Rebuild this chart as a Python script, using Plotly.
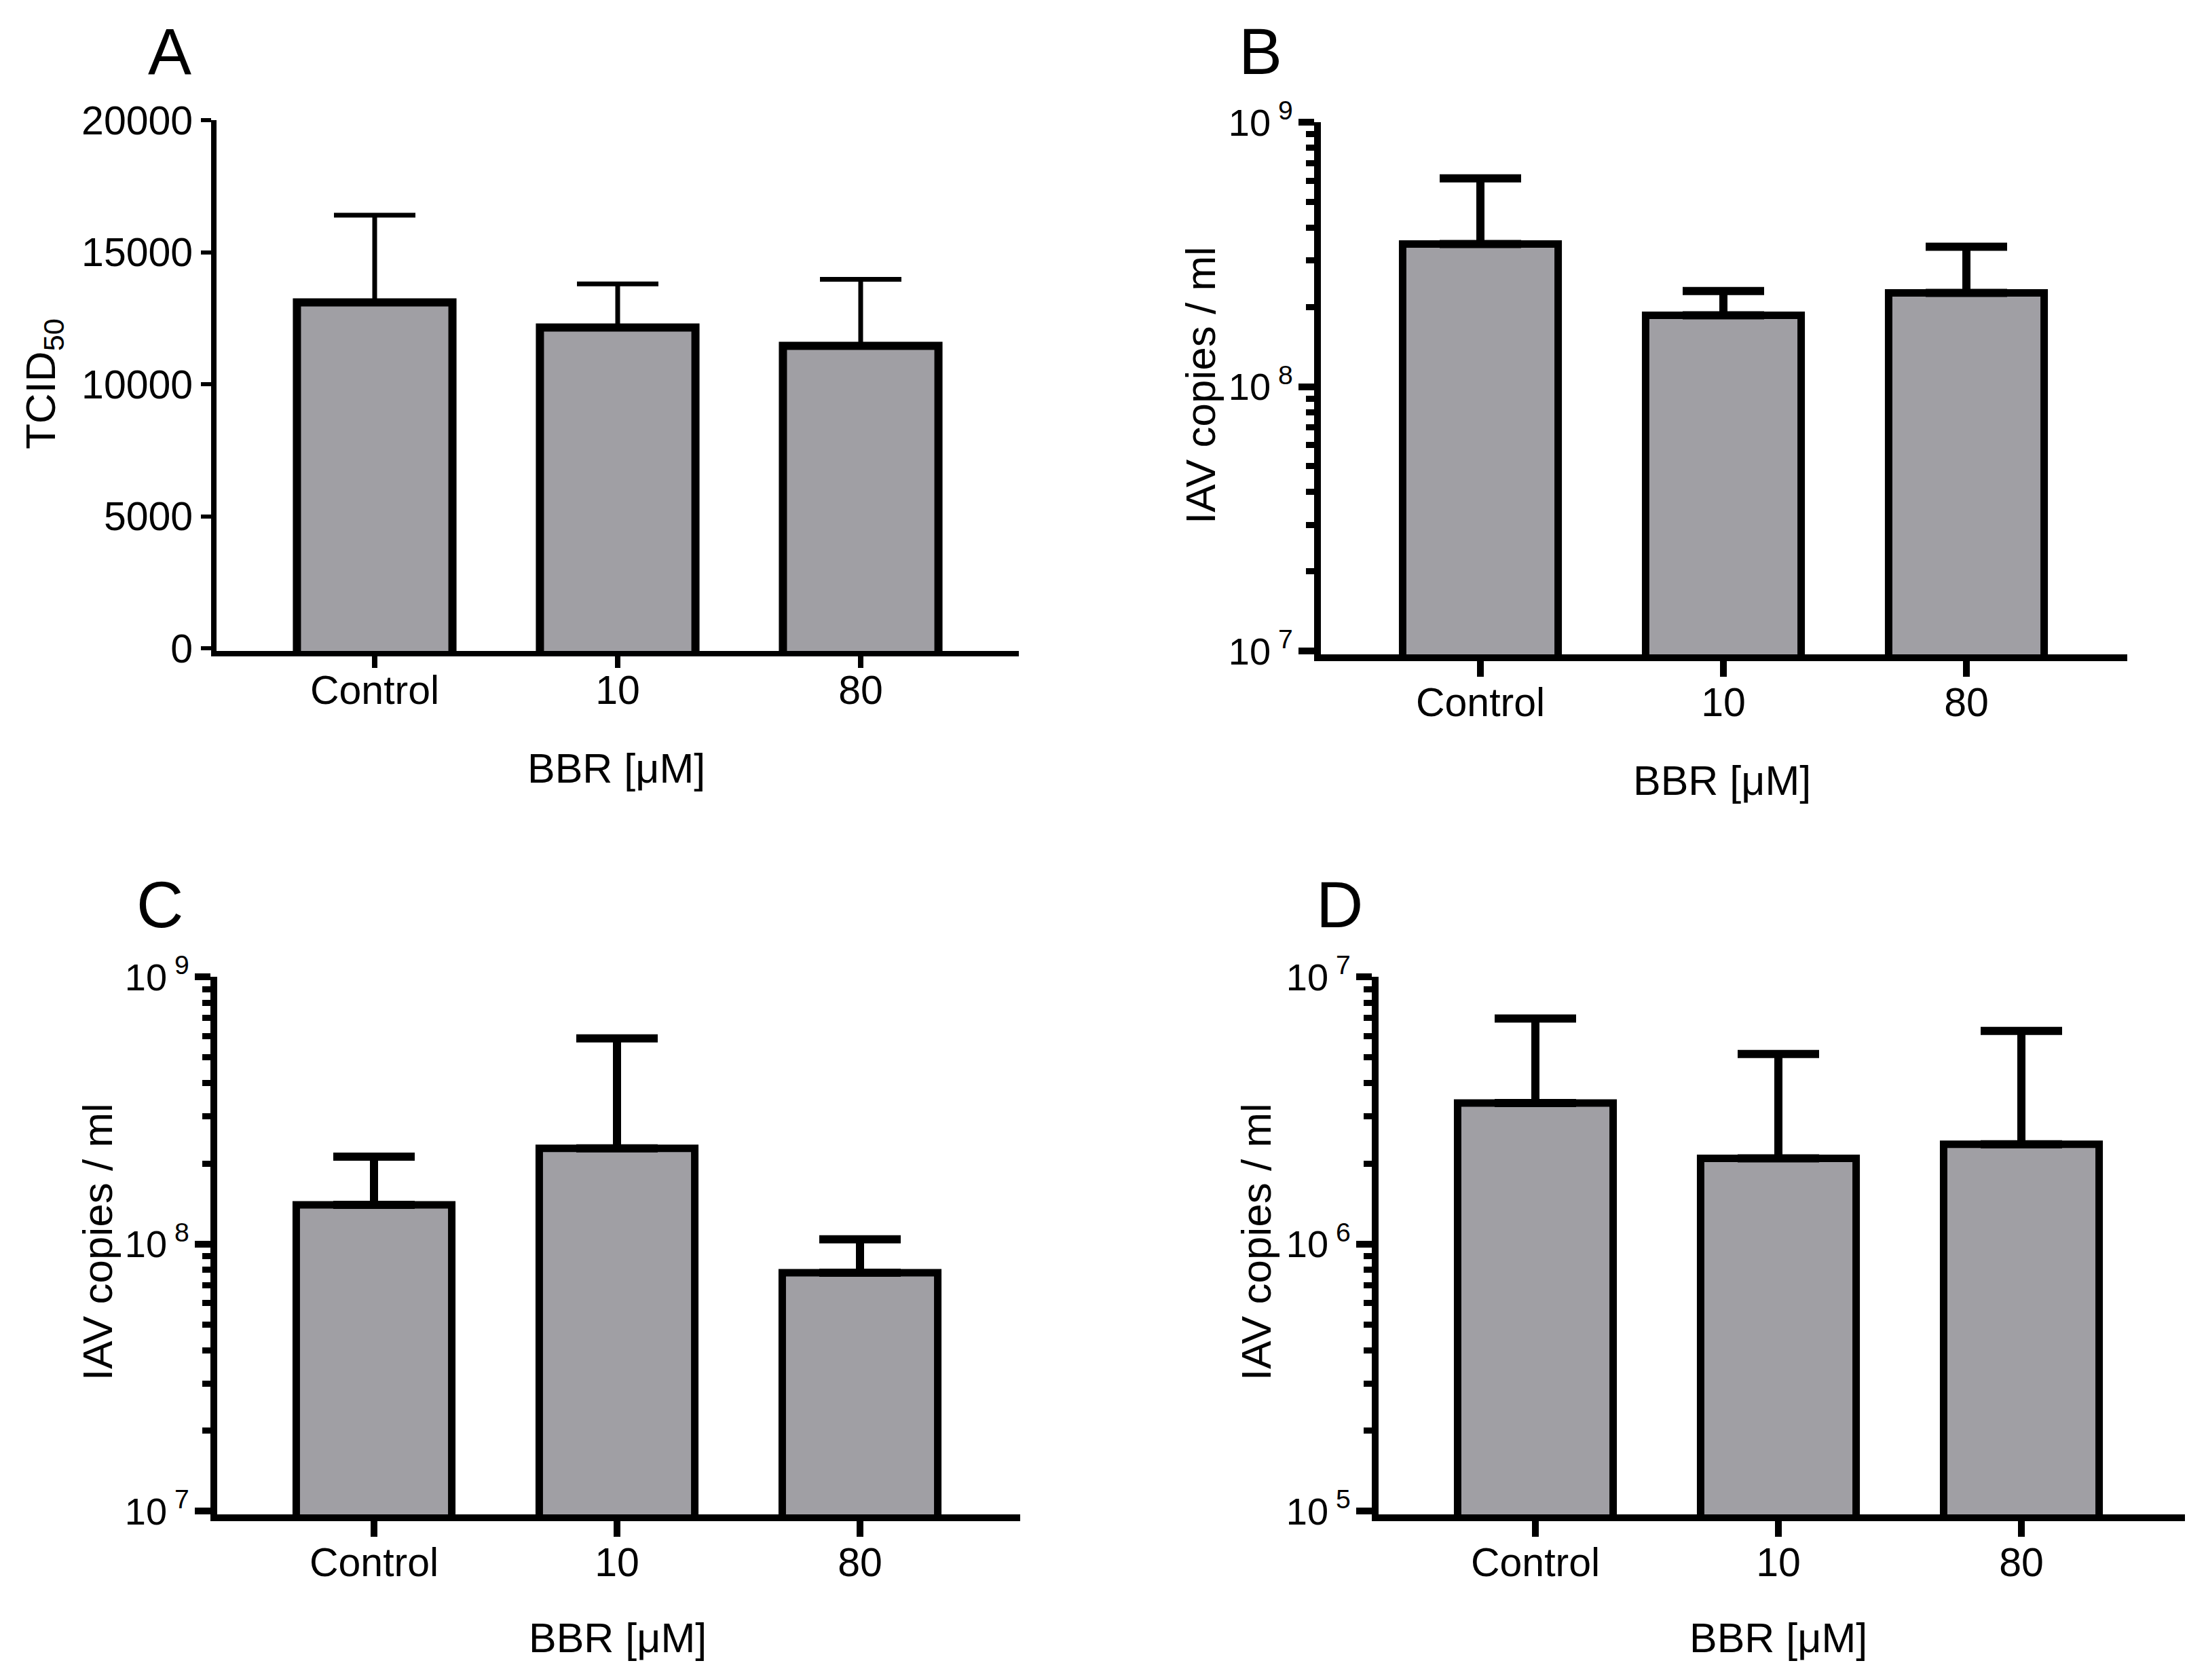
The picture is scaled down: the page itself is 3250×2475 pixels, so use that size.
import plotly.graph_objects as go

W, H = 3250, 2475
OFF = 8  # page body margin that shifts the whole figure

categories = ['Control', '10', '80']

# panel A: TCID50 (linear)
a_mean = [13100, 12150, 11450]
a_top = [16400, 13800, 13970]

# panel B: IAV copies / ml (log)
b_mean = [3.46e8, 1.86e8, 2.26e8]
b_top = [6.13e8, 2.30e8, 3.38e8]

# panel C
c_mean = [1.40e8, 2.28e8, 7.8e7]
c_top = [2.12e8, 5.88e8, 1.04e8]

# panel D
d_mean = [3.37e6, 2.09e6, 2.36e6]
d_top = [6.98e6, 5.14e6, 6.27e6]

a_ticks = [0, 5000, 10000, 15000, 20000]
bc_ticks = [1e7, 1e8, 1e9]
bc_ticktext = ['10<sup> 7</sup>', '10<sup> 8</sup>', '10<sup> 9</sup>']
d_ticks = [1e5, 1e6, 1e7]
d_ticktext = ['10<sup> 5</sup>', '10<sup> 6</sup>', '10<sup> 7</sup>']

FONT = 'Liberation Sans, Arial, sans-serif'
BAR_COLOR = '#a09fa4'
SPACING = 358  # px between category centres


def px(x):
    return (x - OFF) / W


def py(y):
    return 1 - (y - OFF) / H


# pixel frame: (y-axis x, x-axis right end, top, bottom, first category x)
panels = [
    dict(letter='A', mean=a_mean, top=a_top, frame=(315, 1501, 177, 963, 552),
         log=False, lw=8, bar_lw=12, err_t=7, xtl=17, ytl=15, xso=-18, yso=0, yfs=59,
         yticks=a_ticks, ytext=[str(t) for t in a_ticks], yr=(0, 20000),
         ytitle='TCID<sub>50</sub>', ytitle_pos=(64, 566),
         xtitle_pos=(908, 1132), letter_pos=(250, 76)),
    dict(letter='B', mean=b_mean, top=b_top, frame=(1941, 3134, 180, 969, 2181),
         log=True, lw=10, bar_lw=11, err_t=12, xtl=23, ytl=23, xso=-13, yso=-3, yfs=56,
         yticks=bc_ticks, ytext=bc_ticktext, yr=(7, 9),
         ytitle='IAV copies / ml', ytitle_pos=(1768, 568),
         xtitle_pos=(2537, 1150), letter_pos=(1857, 76)),
    dict(letter='C', mean=c_mean, top=c_top, frame=(315, 1503, 1439, 2236, 551),
         log=True, lw=10, bar_lw=11, err_t=12, xtl=23, ytl=23, xso=-13, yso=-3, yfs=56,
         yticks=bc_ticks, ytext=bc_ticktext, yr=(7, 9),
         ytitle='IAV copies / ml', ytitle_pos=(143, 1830),
         xtitle_pos=(910, 2413), letter_pos=(235, 1332)),
    dict(letter='D', mean=d_mean, top=d_top, frame=(2026, 3219, 1439, 2236, 2262),
         log=True, lw=10, bar_lw=11, err_t=12, xtl=23, ytl=23, xso=-13, yso=-3, yfs=56,
         yticks=d_ticks, ytext=d_ticktext, yr=(5, 7),
         ytitle='IAV copies / ml', ytitle_pos=(1850, 1830),
         xtitle_pos=(2620, 2413), letter_pos=(1973, 1332)),
]

fig = go.Figure()
annotations = []

for i, p in enumerate(panels):
    n = '' if i == 0 else str(i + 1)
    xl, xr, yt, yb, c0 = p['frame']
    half = p['lw'] / 2
    err = [t - m for t, m in zip(p['top'], p['mean'])]

    bar = dict(x=categories, y=p['mean'])
    if not p['log']:
        # start the bars below the visible range so their bottom outline is
        # hidden under the x-axis line (top edge still sits at the mean)
        base = -1000
        bar = dict(x=categories, y=[m - base for m in p['mean']], base=[base] * 3)

    fig.add_trace(go.Bar(
        **bar, xaxis='x' + n, yaxis='y' + n,
        width=0.64, marker=dict(color=BAR_COLOR, line=dict(color='black', width=p['bar_lw'])),
        error_y=dict(type='data', array=err, arrayminus=[0, 0, 0], symmetric=False,
                     color='black', thickness=p['err_t'], width=60),
        showlegend=False, hoverinfo='skip'))

    dom_left = xl + half
    xrange = [(dom_left - c0) / SPACING, (xr - c0) / SPACING]

    lo, hi = p['yr']
    per_px = (hi - lo) / (yb - yt)
    yrange = [lo - half * per_px, hi]

    xa = dict(domain=[px(dom_left), px(xr)], anchor='y' + n, type='category',
              range=xrange, showline=True, linewidth=p['lw'], linecolor='black',
              ticks='outside', ticklen=p['xtl'], tickwidth=p['lw'], tickcolor='black',
              ticklabelstandoff=p['xso'], automargin=False,
              showgrid=False, zeroline=False,
              tickfont=dict(family=FONT, size=59, color='black'))
    ya = dict(domain=[py(yb - half), py(yt)], anchor='x' + n,
              type='log' if p['log'] else 'linear', range=yrange,
              showline=True, linewidth=p['lw'], linecolor='black',
              ticks='outside', ticklen=p['ytl'], tickwidth=p['lw'] - 2 if not p['log'] else p['lw'],
              tickcolor='black', tickmode='array', tickvals=p['yticks'], ticktext=p['ytext'],
              ticklabelstandoff=p['yso'],
              showgrid=False, zeroline=False, automargin=False,
              tickfont=dict(family=FONT, size=p['yfs'], color='black'))
    if p['log']:
        ya['minor'] = dict(ticks='outside', ticklen=12, tickwidth=9, tickcolor='black',
                           dtick='D1', showgrid=False)
    fig.layout['xaxis' + n] = xa
    fig.layout['yaxis' + n] = ya

    annotations.append(dict(text=p['ytitle'], x=px(p['ytitle_pos'][0]), y=py(p['ytitle_pos'][1]),
                            xref='paper', yref='paper', showarrow=False, textangle=-90,
                            font=dict(family=FONT, size=62, color='black'),
                            xanchor='center', yanchor='middle'))
    annotations.append(dict(text='BBR [μM]', x=px(p['xtitle_pos'][0]), y=py(p['xtitle_pos'][1]),
                            xref='paper', yref='paper', showarrow=False,
                            font=dict(family=FONT, size=61, color='black'),
                            xanchor='center', yanchor='middle'))
    annotations.append(dict(text=p['letter'], x=px(p['letter_pos'][0]), y=py(p['letter_pos'][1]),
                            xref='paper', yref='paper', showarrow=False,
                            font=dict(family=FONT, size=96, color='black'),
                            xanchor='center', yanchor='middle'))

fig.update_layout(width=W, height=H, margin=dict(l=0, r=0, t=0, b=0),
                  paper_bgcolor='white', plot_bgcolor='white',
                  annotations=annotations, bargap=0.36)

fig.write_html('out.html')
